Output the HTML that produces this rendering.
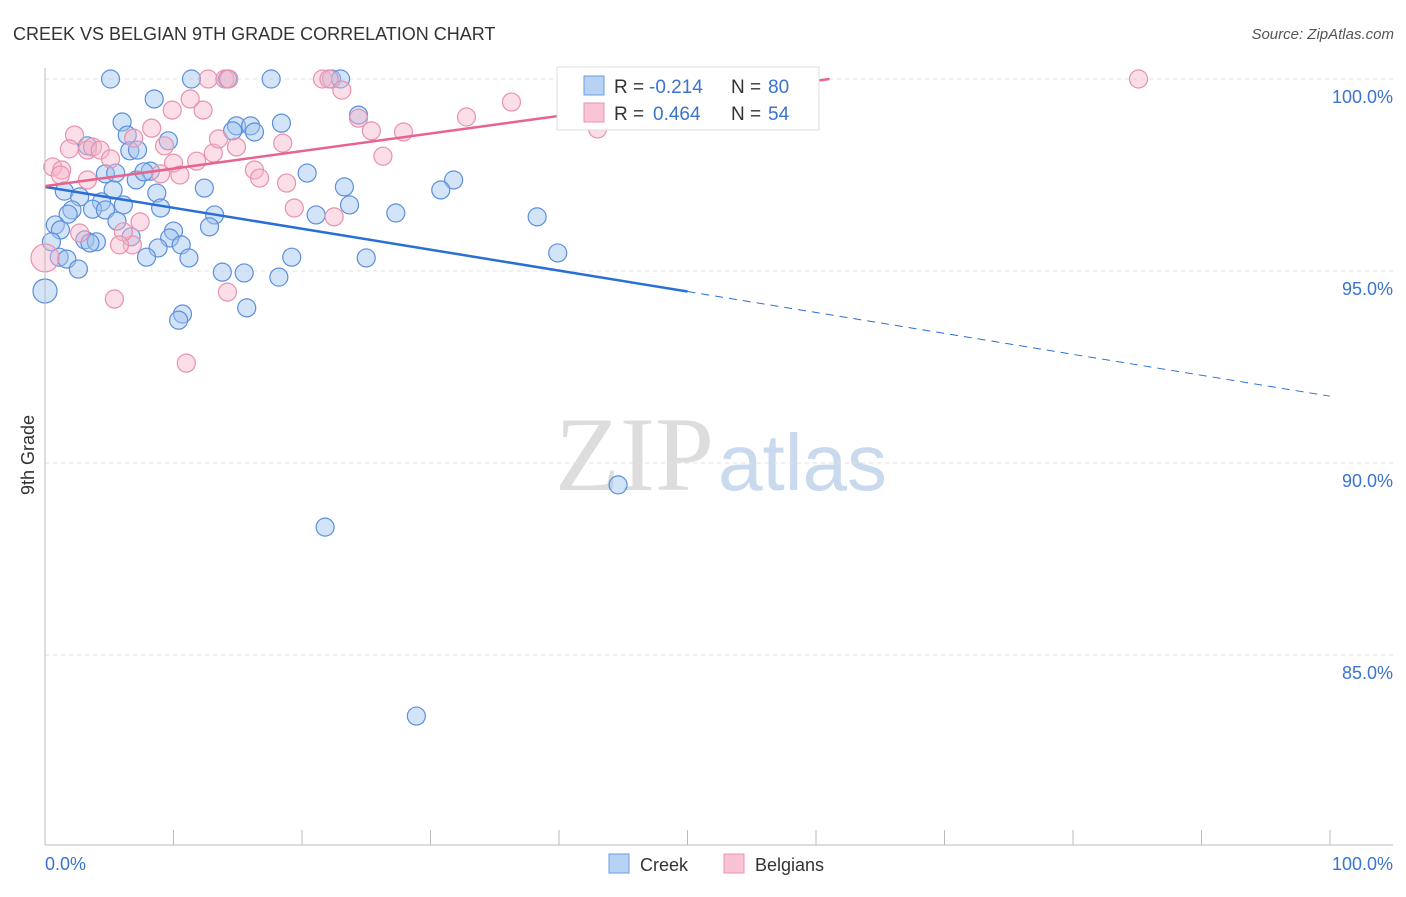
<!DOCTYPE html>
<html><head><meta charset="utf-8"><style>
body{margin:0;background:#fff;font-family:"Liberation Sans",sans-serif;}
svg text{font-family:"Liberation Sans",sans-serif;}
</style></head><body>
<svg id="chart" width="1406" height="892">
<text x="13" y="40" font-size="18" fill="#333">CREEK VS BELGIAN 9TH GRADE CORRELATION CHART</text>
<text x="1394" y="39" font-size="15" fill="#555" font-style="italic" text-anchor="end">Source: ZipAtlas.com</text>
<text x="714" y="490" font-size="106" fill="#ddd" text-anchor="end" style="font-family:'Liberation Serif',serif">ZIP</text>
<text x="718" y="490" font-size="80" fill="#c9d9ee">atlas</text>
<text x="34" y="455" font-size="18" fill="#333" transform="rotate(-90 34 455)" text-anchor="middle">9th Grade</text>
<g id="grid"></g><g id="pts"></g><g id="lines"></g>
<line x1="45" y1="68" x2="45" y2="845" stroke="#bbb"/>
<line x1="45" y1="845" x2="1393" y2="845" stroke="#bbb"/>
<text x="45" y="870" font-size="18" fill="#3a73d0">0.0%</text>
<text x="1393" y="870" font-size="18" fill="#3a73d0" text-anchor="end">100.0%</text>
<g>
<rect x="557" y="67" width="262" height="63" fill="#fff" stroke="#ddd"/>
<rect x="584" y="76" width="20" height="19" fill="#b8d2f4" stroke="#6a9ee0"/>
<rect x="584" y="103" width="20" height="19" fill="#f8c4d4" stroke="#ec93b0"/>
<text x="614" y="93" font-size="19" fill="#333">R =</text>
<text x="649" y="93" font-size="19" fill="#3a73d0">-0.214</text>
<text x="731" y="93" font-size="19" fill="#333">N =</text>
<text x="768" y="93" font-size="19" fill="#3a73d0">80</text>
<text x="614" y="120" font-size="19" fill="#333">R =</text>
<text x="653" y="120" font-size="19" fill="#3a73d0">0.464</text>
<text x="731" y="120" font-size="19" fill="#333">N =</text>
<text x="768" y="120" font-size="19" fill="#3a73d0">54</text>
</g>
<g>
<rect x="609" y="854" width="20" height="19" fill="#b8d2f4" stroke="#6a9ee0"/>
<text x="640" y="871" font-size="18" fill="#333">Creek</text>
<rect x="724" y="854" width="20" height="19" fill="#f8c4d4" stroke="#ec93b0"/>
<text x="755" y="871" font-size="18" fill="#333">Belgians</text>
</g>
</svg>
<script>
const yTicks=[100,95,90,85];
const yTickLabels=["100.0%","95.0%","90.0%","85.0%"];
const xTicks=[0,10,20,30,40,50,60,70,80,90,100];
const creekX=[5.1,11.4,14.2,17.6,22.3,23.0,8.5,6.0,14.9,16.0,18.4,24.4,6.4,9.6,14.6,16.3,3.3,6.6,7.2,8.2,4.7,5.5,7.1,7.7,20.4,23.3,31.8,30.8,12.4,1.5,5.3,8.7,2.7,2.1,1.8,4.4,3.7,4.7,6.1,9.0,13.2,21.1,23.7,27.3,38.3,0.8,1.2,5.6,12.8,10.0,3.1,4.0,3.5,6.7,9.7,0.5,10.6,8.8,7.9,11.2,1.1,1.7,2.6,13.8,15.5,18.2,19.2,25.0,39.9,0,10.7,10.4,15.7,44.6,21.8,28.9];
const creekY=[100,100,100,100,100,100,99.48,98.88,98.78,98.78,98.85,99.06,98.54,98.39,98.65,98.62,98.26,98.13,98.15,97.60,97.53,97.55,97.37,97.58,97.55,97.19,97.37,97.11,97.16,97.08,97.11,97.03,96.93,96.59,96.48,96.80,96.61,96.59,96.72,96.64,96.46,96.46,96.72,96.51,96.41,96.20,96.07,96.30,96.15,96.04,95.81,95.76,95.73,95.89,95.86,95.76,95.68,95.60,95.36,95.34,95.36,95.31,95.05,94.97,94.95,94.84,95.36,95.34,95.47,94.48,93.88,93.72,94.04,89.43,88.33,83.41];
const belgX=[0,0.6,1.3,2.3,1.9,3.3,3.7,4.3,5.1,3.3,1.2,6.9,8.3,9.3,9.9,10.0,10.5,11.3,11.8,12.3,12.7,14.0,14.3,13.1,13.5,14.9,16.3,16.7,18.8,19.4,18.5,21.6,22.1,23.1,24.4,25.4,26.3,27.9,32.8,36.3,43.0,48.5,52.1,85.1,6.8,6.1,7.4,5.4,14.2,11.0,22.5,9.0,2.7,5.8];
const belgY=[95.34,97.71,97.63,98.54,98.18,98.15,98.23,98.15,97.92,97.37,97.50,98.46,98.72,98.26,99.19,97.81,97.50,99.48,97.86,99.19,100,100,100,98.07,98.44,98.23,97.63,97.42,97.29,96.64,98.33,100,100,99.71,98.98,98.65,97.99,98.62,99.01,99.40,98.70,100,100,100,95.68,96.02,96.28,94.27,94.45,92.60,96.41,97.53,95.99,95.68];
const creekTrend=[97.19,91.74];
const belgTrend=[97.21,101.78];
const NS='http://www.w3.org/2000/svg';
const sx=v=>45+v*12.85, sy=v=>79+(100-v)*38.4;
function mk(t,a,p){const e=document.createElementNS(NS,t);for(const k in a)e.setAttribute(k,a[k]);p.appendChild(e);return e;}
const grid=document.getElementById('grid'),pts=document.getElementById('pts'),lines=document.getElementById('lines'),svg=document.getElementById('chart');
yTicks.forEach((t,i)=>{
 const l=mk('line',{x1:45,x2:1393,y1:sy(t),y2:sy(t),stroke:'#e2e2e2','stroke-dasharray':'4,4'},grid);
 
 
 const tx=mk('text',{x:1393,y:sy(t)+24,'font-size':18,fill:'#3a73d0','text-anchor':'end'},svg);
 tx.textContent=yTickLabels[i];
 
 
});
xTicks.forEach(t=>{
 const l=mk('line',{x1:sx(t),x2:sx(t),y1:830,y2:845,stroke:'#bbb'},grid);
 
 
});
creekX.forEach((x,i)=>{
 const c=mk('circle',{cx:sx(x),cy:sy(creekY[i]),r:(x===0?12:9),fill:'rgba(160,196,240,0.45)',stroke:'#5b8fdc','stroke-width':1.2},pts);
 
 
});
belgX.forEach((x,i)=>{
 const c=mk('circle',{cx:sx(x),cy:sy(belgY[i]),r:(x===0?14:9),fill:'rgba(246,182,202,0.45)',stroke:'#e991ad','stroke-width':1.2},pts);
 
 
});
const cy=x=>creekTrend[0]+(creekTrend[1]-creekTrend[0])*x/100;
let l1=mk('line',{x1:sx(0),y1:sy(cy(0)),x2:sx(50),y2:sy(cy(50)),stroke:'#2a6fd6','stroke-width':2.5},lines);


let l2=mk('line',{x1:sx(50),y1:sy(cy(50)),x2:sx(100),y2:sy(cy(100)),stroke:'#2a6fd6','stroke-width':1,'stroke-dasharray':'8,6'},lines);


const bs=(belgTrend[1]-belgTrend[0])/100, bEnd=(100-belgTrend[0])/bs;
let l3=mk('line',{x1:sx(0),y1:sy(belgTrend[0]),x2:sx(bEnd),y2:sy(100),stroke:'#e8648c','stroke-width':2.5},lines);


</script>
</body></html>
